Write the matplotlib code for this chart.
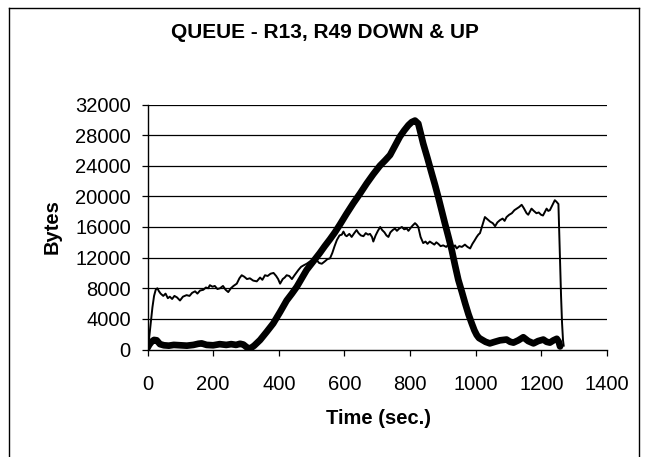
import matplotlib
matplotlib.use("Agg")
import matplotlib.pyplot as plt
from matplotlib.lines import Line2D

plt.rcParams['font.family'] = ['Liberation Sans', 'DejaVu Sans']

title = "QUEUE - R13, R49 DOWN & UP"
x_label = "Time (sec.)"
y_label = "Bytes"
x_ticks = [0, 200, 400, 600, 800, 1000, 1200, 1400]
y_ticks = [0, 4000, 8000, 12000, 16000, 20000, 24000, 28000, 32000]

# thick series (queue of first router)
thick_t = [0, 5, 12, 20, 28, 38, 50, 65, 80, 100, 120, 140, 155, 165, 180, 200, 220, 240, 255, 270,
           282, 292, 302, 312, 325, 343, 363, 383, 404, 424, 440, 455, 470, 485, 505, 525, 540, 556,
           571, 586, 606, 627, 648, 668, 688, 708, 724, 739, 754, 769, 782, 795, 805, 815, 825, 832,
           840, 853, 866, 876, 886, 896, 906, 917, 927, 937, 947, 958, 968, 978, 988, 996, 1003, 1010,
           1018, 1030, 1043, 1058, 1074, 1094, 1105, 1115, 1130, 1145, 1160, 1176, 1190, 1206, 1216,
           1226, 1237, 1247, 1253, 1257]
thick_y = [200, 600, 1000, 1250, 1200, 700, 550, 500, 600, 550, 500, 600, 750, 800, 600, 550, 700, 600,
           700, 600, 750, 650, 300, 100, 500, 1240, 2300, 3400, 4900, 6400, 7300, 8200, 9300, 10400,
           11500, 12600, 13500, 14400, 15300, 16300, 17700, 19100, 20400, 21700, 22900, 24000, 24700,
           25400, 26600, 27800, 28600, 29300, 29700, 29900, 29500, 28300, 26900, 25000, 23000, 21500,
           19900, 18200, 16500, 14700, 13000, 11000, 9100, 7500, 6000, 4600, 3400, 2500, 1900, 1500,
           1300, 1000, 800, 1000, 1200, 1300, 1000, 900, 1200, 1600, 1100, 800, 1100, 1300, 1000, 900,
           1200, 1400, 1000, 400]

# thin series (queue of second router)
thin_t = [0, 5, 10, 15, 20, 25, 30, 35, 40, 48, 55, 62, 68, 75, 82, 90, 99, 108, 119, 128, 136, 145,
          152, 160, 170, 178, 185, 190, 198, 205, 213, 221, 230, 238, 246, 254, 262, 272, 280, 287,
          295, 303, 312, 322, 333, 343, 350, 358, 366, 375, 384, 392, 398, 404, 412, 418, 424, 432,
          440, 448, 455, 460, 468, 476, 485, 495, 505, 515, 523, 531, 540, 548, 556, 563, 570, 577,
          585, 592, 597, 603, 607, 615, 622, 630, 637, 643, 650, 658, 665, 672, 678, 684, 688, 695,
          702, 709, 715, 722, 728, 734, 740, 747, 754, 760, 767, 775, 782, 790, 795, 802, 808, 815,
          820, 825, 832, 840, 847, 853, 860, 867, 874, 880, 886, 893, 901, 910, 917, 923, 930, 937,
          942, 950, 958, 967, 975, 983, 990, 996, 1003, 1008, 1013, 1020, 1028, 1036, 1044, 1052,
          1059, 1066, 1074, 1082, 1088, 1094, 1102, 1110, 1118, 1125, 1132, 1140, 1146, 1150, 1155,
          1160, 1165, 1170, 1177, 1185, 1192, 1199, 1205, 1211, 1216, 1221, 1226, 1233, 1241, 1246,
          1252, 1256, 1260, 1263, 1266, 1268]
thin_y = [300, 1500, 3500, 5500, 7000, 7800, 8000, 7600, 7300, 7000, 7300, 6700, 6900, 6600, 7000,
          6800, 6400, 6900, 7100, 7000, 7400, 7600, 7300, 7700, 7800, 8100, 8000, 8400, 8200, 8300,
          7900, 8000, 8300, 7800, 7500, 8000, 8300, 8600, 9300, 9700, 9500, 9200, 9300, 9000, 8900,
          9400, 9100, 9700, 9600, 9900, 10000, 9600, 9200, 8600, 9200, 9400, 9700, 9600, 9200, 9700,
          10100, 10400, 10800, 11000, 11200, 11500, 11450, 11700, 11300, 11200, 11500, 11800, 11900,
          12600, 13500, 14300, 14900, 15000, 15400, 14900, 14800, 15100, 14700, 15200, 15600, 15200,
          14900, 14800, 15200, 15000, 15100, 14700, 14100, 14900, 15500, 16000, 15600, 15300, 14900,
          14700, 15300, 15600, 15800, 15500, 15800, 16000, 15700, 15800, 15500, 15900, 16200, 16500,
          16300, 16000, 14700, 13900, 14100, 13800, 14100, 13900, 13700, 14000, 13800, 13500, 13600,
          13400, 13700, 13400, 13300, 13600, 13200, 13500, 13400, 13700, 13400, 13200, 13800, 14200,
          14700, 15000, 15200, 16200, 17300, 17000, 16700, 16500, 16100, 16600, 16900, 17100, 16800,
          17300, 17600, 17800, 18200, 18400, 18600, 18900, 18500, 18200, 17800, 17600, 18000, 18400,
          18100, 17800, 17900, 17600, 17500, 18000, 18400, 18100, 18200, 18800, 19500, 19300, 19000,
          13000, 7000, 3500, 1200, 500]

W, H = 647, 457
fig = plt.figure(figsize=(W / 100, H / 100), dpi=100)
fig.patch.set_facecolor('white')

ax = fig.add_axes([147.5 / W, 1 - 349.5 / H, (607 - 147.5) / W, (349.5 - 104.5) / H])
ax.set_xlim(0, 1400)
ax.set_ylim(0, 32000)

for yv in y_ticks[1:]:
    ax.axhline(yv, color='black', lw=0.9, zorder=1)

ax.plot(thin_t, thin_y, color='black', lw=1.4, zorder=3, solid_joinstyle='round')
ax.plot(thick_t, thick_y, color='black', lw=4.8, zorder=4, solid_joinstyle='round',
        solid_capstyle='round')

ax.set_xticks(x_ticks)
ax.set_yticks(y_ticks)
ax.set_xticklabels([str(v) for v in x_ticks])
ax.set_yticklabels([str(v) for v in y_ticks])
ax.tick_params(axis='both', direction='out', length=4, width=0.9, color='black',
               labelsize=14.5)
ax.tick_params(axis='x', pad=14)
ax.tick_params(axis='y', pad=8)

for s in ['top', 'right']:
    ax.spines[s].set_visible(False)
for s in ['left', 'bottom']:
    ax.spines[s].set_linewidth(1.0)
    ax.spines[s].set_color('black')

fig.text(325 / W, 1 - 32 / H, title, ha='center', va='center', fontsize=15,
         fontweight='bold')
fig.text(378 / W, 1 - 418 / H, x_label, ha='center', va='center', fontsize=14.5,
         fontweight='bold')
fig.text(52 / W, 1 - 227 / H, y_label, ha='center', va='center', fontsize=14.5,
         fontweight='bold', rotation=90)

# outer chart frame
lx, rx, ty = 9 / W, 639 / W, 1 - 8 / H
fig.add_artist(Line2D([lx, lx], [-0.01, ty], color='black', lw=1.0, transform=fig.transFigure))
fig.add_artist(Line2D([rx, rx], [-0.01, ty], color='black', lw=1.0, transform=fig.transFigure))
fig.add_artist(Line2D([lx, rx], [ty, ty], color='black', lw=1.0, transform=fig.transFigure))

fig.savefig('out.png', dpi=100)
